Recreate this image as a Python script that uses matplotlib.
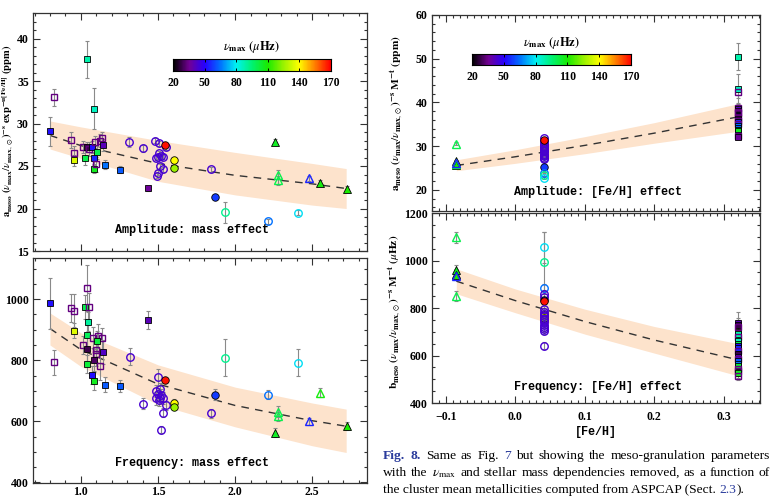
import numpy as np
import matplotlib
matplotlib.use('Agg')
import matplotlib.pyplot as plt
from matplotlib.colors import LinearSegmentedColormap, Normalize
from matplotlib.ticker import MultipleLocator

# ---------------- data: amplitude vs mass (top-left) ----------------
AM_SQ_MASS = [0.802, 0.826, 0.937, 0.959, 0.959, 1.015, 1.026, 1.043, 1.083, 1.040, 1.050, 1.074,
              1.083, 1.083, 1.090, 1.098, 1.104, 1.124, 1.137, 1.141, 1.154, 1.254, 1.435]
AM_SQ_VAL = [29.1, 33.1, 28.05, 26.5, 25.65, 27.25, 26.0, 37.55, 31.76, 27.2, 27.0, 27.2,
             25.95, 24.66, 27.8, 25.2, 26.6, 28.0, 28.25, 27.5, 25.15, 24.55, 22.4]
AM_SQ_ERR = [1.7, 1.0, 0.9, 0.9, 0.6, 0.7, 0.9, 2.2, 2.4, 0.6, 0.8, 0.7,
             0.7, 0.5, 0.7, 0.9, 0.8, 0.8, 0.7, 0.7, 0.5, 0.4, 0.3]
AM_SQ_NUMAX = [52, 33, 33, 33, 135, 33, 100, 88, 86, 28, 33, 52,
               55, 106, 33, 33, 100, 33, 33, 40, 65, 62, 36]
AM_SQ_FILLED = [1, 0, 0, 0, 1, 0, 1, 1, 1, 1, 0, 1, 1, 1, 0, 0, 1, 0, 0, 1, 1, 1, 1]

AM_CI_MASS = [1.315, 1.402, 1.480, 1.507, 1.554, 1.485, 1.507, 1.500, 1.518, 1.533, 1.511, 1.533,
              1.502, 1.493, 1.546, 1.602, 1.602, 1.841, 1.872, 1.937, 2.211, 2.407]
AM_CI_VAL = [27.85, 27.06, 27.97, 27.7, 27.2, 25.95, 26.5, 26.1, 26.2, 26.1, 25.05, 24.6,
             24.2, 23.85, 27.5, 25.65, 24.75, 24.6, 21.35, 19.55, 18.5, 19.5]
AM_CI_ERR = [0.6, 0.4, 0.3, 0.3, 0.3, 0.3, 0.3, 0.3, 0.3, 0.3, 0.3, 0.3,
             0.3, 0.3, 0.3, 0.3, 0.3, 0.3, 0.3, 1.2, 0.3, 0.3]
AM_CI_NUMAX = [44, 44, 44, 44, 44, 44, 44, 44, 44, 44, 44, 44,
               44, 44, 168, 140, 125, 44, 58, 92, 65, 78]
AM_CI_FILLED = [0, 0, 0, 0, 0, 0, 0, 0, 0, 0, 0, 0, 0, 0, 1, 1, 1, 0, 1, 0, 0, 0]

AM_TR_MASS = [2.259, 2.276, 2.276, 2.476, 2.548, 2.726]
AM_TR_VAL = [27.85, 24.0, 23.3, 23.55, 23.0, 22.35]
AM_TR_ERR = [0.3, 0.5, 0.5, 0.3, 0.3, 0.3]
AM_TR_NUMAX = [105, 100, 100, 55, 108, 110]
AM_TR_FILLED = [1, 0, 0, 0, 1, 1]

# ---------------- data: frequency vs mass (bottom-left) ----------------
FR_SQ_MASS = [0.802, 0.826, 0.937, 0.959, 0.959, 1.015, 1.026, 1.041, 1.054, 1.046, 1.037, 1.080,
              1.113, 1.139, 1.102, 1.041, 1.096, 1.096, 1.143, 1.085, 1.037, 1.126, 1.074, 1.083,
              1.154, 1.254, 1.435]
FR_SQ_VAL = [986, 793, 972, 963, 897, 850, 975, 1038, 975, 927, 882, 874,
             879, 872, 862, 838, 835, 821, 828, 801, 787, 781, 751, 731,
             720, 715, 931]
FR_SQ_ERR = [85, 42, 45, 55, 25, 30, 40, 75, 45, 30, 35, 35,
             40, 35, 35, 40, 40, 40, 40, 35, 30, 45, 30, 30,
             25, 20, 30]
FR_SQ_NUMAX = [52, 33, 33, 33, 135, 33, 100, 33, 33, 90, 98, 33,
               33, 33, 102, 28, 33, 33, 42, 30, 103, 33, 52, 106,
               62, 62, 40]
FR_SQ_FILLED = [1, 0, 0, 0, 1, 0, 1, 0, 0, 1, 1, 0, 0, 0, 1, 1, 0, 0, 1, 1, 1, 0, 1, 1, 1, 1, 1]

FR_CI_MASS = [1.318, 1.402, 1.500, 1.485, 1.500, 1.510, 1.520, 1.490, 1.505, 1.515, 1.530, 1.553,
              1.533, 1.520, 1.546, 1.602, 1.602, 1.841, 1.872, 1.937, 2.211, 2.407]
FR_CI_VAL = [811, 658, 745, 700, 690, 705, 685, 675, 670, 678, 677, 652,
             628, 573, 734, 661, 648, 627, 687, 809, 687, 792]
FR_CI_ERR = [28, 18, 28, 20, 20, 20, 20, 20, 20, 20, 20, 15,
             15, 12, 10, 12, 12, 15, 18, 60, 15, 45]
FR_CI_NUMAX = [44, 44, 44, 44, 44, 44, 44, 44, 44, 44, 44, 44,
               44, 44, 168, 140, 125, 44, 58, 92, 65, 78]
FR_CI_FILLED = [0, 0, 0, 0, 0, 0, 0, 0, 0, 0, 0, 0, 0, 0, 1, 1, 1, 0, 1, 0, 0, 0]

FR_TR_MASS = [2.259, 2.276, 2.276, 2.476, 2.548, 2.726]
FR_TR_VAL = [563, 632, 617, 600, 694, 585]
FR_TR_ERR = [15, 18, 15, 12, 15, 12]
FR_TR_NUMAX = [105, 100, 100, 55, 108, 110]
FR_TR_FILLED = [1, 0, 0, 0, 0, 1]

# ---------------- data: metallicity panels (right) ----------------
FEH_SQ, FEH_CI, FEH_TR = 0.32, 0.041, -0.085

FA_SQ_VAL = [35.2, 50.5, 43.0, 42.3, 38.8, 38.5, 38.0, 37.6, 37.2, 36.8, 36.5, 36.2, 35.8, 35.5,
             35.0, 34.6, 34.2, 33.8, 33.4, 32.6, 32.3, 32.2, 37.9]
FA_SQ_ERR = [0.6, 3.1, 3.4, 1.2, 1.0, 0.9, 0.8, 0.9, 0.8, 0.8, 0.8, 0.7, 0.8, 0.7,
             0.8, 0.6, 0.6, 0.7, 0.6, 0.6, 0.6, 0.5, 0.8]
FA_SQ_NUMAX = [135, 88, 86, 33, 33, 40, 28, 33, 52, 30, 33, 25, 33, 55,
               33, 65, 62, 100, 106, 55, 33, 36, 33]
FA_SQ_FILLED = [1, 1, 1, 0, 0, 1, 1, 0, 1, 1, 0, 1, 0, 1, 0, 1, 1, 1, 1, 1, 0, 1, 0]

FA_CI_VAL = [29.5, 28.9, 31.8, 31.3, 30.8, 30.3, 29.8, 29.3, 28.8, 28.3, 27.8, 27.4, 27.0,
             30.0, 28.0, 31.4, 25.2, 23.9, 23.4, 22.8, 29.2]
FA_CI_ERR = [0.3, 0.3, 0.3, 0.3, 0.3, 0.3, 0.3, 0.3, 0.3, 0.3, 0.3, 0.3, 0.3,
             0.3, 0.3, 0.3, 0.3, 0.3, 0.5, 0.3, 0.3]
FA_CI_NUMAX = [140, 125, 44, 44, 44, 44, 44, 44, 44, 44, 44, 44, 44,
               44, 44, 168, 58, 65, 92, 78, 44]
FA_CI_FILLED = [1, 1, 0, 0, 0, 0, 0, 0, 0, 0, 0, 0, 0, 0, 0, 1, 1, 0, 0, 0, 0]

FA_TR_VAL = [30.6, 26.6, 25.9, 25.6, 26.0, 26.2]
FA_TR_ERR = [0.4, 0.3, 0.3, 0.3, 0.3, 0.3]
FA_TR_NUMAX = [100, 105, 108, 110, 100, 55]
FA_TR_FILLED = [0, 1, 1, 1, 0, 0]

FB_SQ_VAL = [700, 737, 730, 720, 690, 680, 660, 650, 640, 630, 620, 605, 595, 585, 575,
             565, 555, 545, 535, 525, 515]
FB_SQ_ERR = [25, 45, 30, 30, 30, 25, 25, 25, 25, 25, 25, 25, 25, 20, 20,
             20, 20, 20, 20, 20, 20]
FB_SQ_NUMAX = [135, 40, 28, 33, 88, 33, 86, 100, 52, 55, 33, 28, 40, 33, 62,
               65, 103, 33, 33, 106, 33]
FB_SQ_FILLED = [1, 1, 1, 0, 1, 0, 1, 1, 1, 1, 0, 1, 1, 0, 1, 1, 1, 0, 0, 1, 0]

FB_CI_VAL = [770, 760, 1056, 993, 885, 860, 845, 835, 828, 795, 785, 775, 765, 755, 748,
             740, 730, 720, 712, 705, 641]
FB_CI_ERR = [12, 12, 65, 125, 15, 15, 15, 12, 10, 15, 15, 15, 15, 15, 15,
             15, 15, 15, 15, 15, 15]
FB_CI_NUMAX = [140, 125, 78, 92, 65, 44, 44, 58, 168, 44, 44, 44, 44, 44, 44,
               44, 44, 44, 44, 44, 44]
FB_CI_FILLED = [1, 1, 0, 0, 0, 0, 0, 1, 1, 0, 0, 0, 0, 0, 0, 0, 0, 0, 0, 0, 0]

FB_TR_VAL = [1097, 945, 958, 940, 850, 934]
FB_TR_ERR = [25, 20, 22, 15, 22, 15]
FB_TR_NUMAX = [100, 108, 105, 110, 100, 55]
FB_TR_FILLED = [0, 1, 1, 1, 0, 0]

# ---------------- fit curves ----------------
FIT_MASS = [0.8, 1.0, 1.5, 2.0, 2.5, 2.72]
FIT_AMP = [28.6, 27.4, 25.3, 23.9, 22.9, 22.35]
FIT_AMP_UP = [30.3, 29.6, 28.0, 26.6, 25.3, 24.7]
FIT_AMP_LO = [27.0, 25.9, 23.2, 21.6, 20.4, 20.0]
FIT_FRQ = [904, 835, 722, 652, 602, 584]
FIT_FRQ_UP = [955, 890, 785, 712, 660, 640]
FIT_FRQ_LO = [850, 780, 655, 582, 520, 498]

FIT_FEH = [-0.085, 0.0, 0.1, 0.2, 0.32]
FIT_FA = [25.6, 27.6, 30.2, 33.0, 36.7]
FIT_FA_UP = [26.9, 29.2, 32.2, 35.4, 39.7]
FIT_FA_LO = [24.4, 26.1, 28.3, 30.7, 33.4]
FIT_FB = [913, 831, 743, 665, 582]
FIT_FB_UP = [965, 880, 795, 722, 650]
FIT_FB_LO = [860, 780, 690, 610, 515]

CBAR_TICKS = [20, 50, 80, 110, 140, 170]

# ---------------- style ----------------
plt.rcParams['mathtext.fontset'] = 'stix'
plt.rcParams['font.family'] = ['Liberation Serif', 'DejaVu Serif']

cmap = LinearSegmentedColormap.from_list('rainbowblack', [
    (0.00, (0.0, 0.0, 0.0)),
    (0.10, (0.45, 0.0, 0.58)),
    (0.20, (0.15, 0.0, 1.0)),
    (0.30, (0.0, 0.45, 1.0)),
    (0.40, (0.0, 0.95, 0.95)),
    (0.50, (0.0, 0.95, 0.45)),
    (0.60, (0.1, 0.92, 0.0)),
    (0.70, (0.6, 0.95, 0.0)),
    (0.80, (1.0, 1.0, 0.0)),
    (0.88, (1.0, 0.6, 0.0)),
    (1.00, (1.0, 0.0, 0.0))])
norm = Normalize(20, 170)

BAND = '#fde3cc'
ERRC = '#8a8a8a'
W, H = 772, 499

fig = plt.figure(figsize=(7.72, 4.99), dpi=100)


def px_axes(x0, y0, x1, y1):
    return fig.add_axes([x0 / W, 1 - y1 / H, (x1 - x0) / W, (y1 - y0) / H])


ax_tl = px_axes(33, 13, 367, 251)
ax_bl = px_axes(33, 258, 367, 483)
ax_tr = px_axes(432, 15, 760, 211)
ax_br = px_axes(432, 213, 760, 403)

MS = {'s': 4.6, 'o': 5.4, '^': 5.6}


def draw_points(ax, xs, ys, errs, numax, filled, marker):
    for x, y, e, nu, f in zip(xs, ys, errs, numax, filled):
        ax.errorbar([x], [y], yerr=[e], fmt='none', ecolor=ERRC, elinewidth=0.8,
                    capsize=1.4, capthick=0.8, zorder=2)
    for x, y, nu, f in zip(xs, ys, numax, filled):
        c = cmap(norm(nu))
        if f:
            ax.plot([x], [y], marker=marker, ms=MS[marker], mfc=c, mec='black', mew=0.6,
                    ls='none', zorder=3)
        else:
            ax.plot([x], [y], marker=marker, ms=MS[marker], mfc='none', mec=c, mew=1.0,
                    ls='none', zorder=3)


def style(ax, xmaj, xmin, ymaj, ymin, xlabels=True, xpad=3):
    ax.xaxis.set_major_locator(MultipleLocator(xmaj))
    ax.xaxis.set_minor_locator(MultipleLocator(xmin))
    ax.yaxis.set_major_locator(MultipleLocator(ymaj))
    ax.yaxis.set_minor_locator(MultipleLocator(ymin))
    ax.tick_params(which='both', direction='in', top=True, right=True, width=0.8, color='#333333')
    ax.tick_params(which='major', length=5)
    ax.tick_params(which='minor', length=2.5)
    ax.tick_params(labelsize=8.5, pad=3)
    ax.tick_params(axis='x', pad=xpad)
    for lab in ax.get_xticklabels() + ax.get_yticklabels():
        lab.set_fontweight('bold')
    if not xlabels:
        ax.tick_params(labelbottom=False)
    for sp in ax.spines.values():
        sp.set_linewidth(0.9)
        sp.set_color('#333333')


def fit(ax, x, y, up, lo):
    ax.fill_between(x, lo, up, color=BAND, lw=0, zorder=0.5)
    ax.plot(x, y, color='#333333', lw=1.0, dashes=(5.5, 4.5), zorder=1)


# top-left
fit(ax_tl, FIT_MASS, FIT_AMP, FIT_AMP_UP, FIT_AMP_LO)
draw_points(ax_tl, AM_SQ_MASS, AM_SQ_VAL, AM_SQ_ERR, AM_SQ_NUMAX, AM_SQ_FILLED, 's')
draw_points(ax_tl, AM_CI_MASS, AM_CI_VAL, AM_CI_ERR, AM_CI_NUMAX, AM_CI_FILLED, 'o')
draw_points(ax_tl, AM_TR_MASS, AM_TR_VAL, AM_TR_ERR, AM_TR_NUMAX, AM_TR_FILLED, '^')
ax_tl.set_xlim(0.69, 2.855)
ax_tl.set_ylim(15, 43)
style(ax_tl, 0.5, 0.1, 5, 1, xlabels=False)
ax_tl.text(0.476, 0.089, 'Amplitude: mass effect', transform=ax_tl.transAxes, ha='center',
           va='center', fontsize=8.5, fontweight='bold', family='Liberation Mono')

# bottom-left
fit(ax_bl, FIT_MASS, FIT_FRQ, FIT_FRQ_UP, FIT_FRQ_LO)
draw_points(ax_bl, FR_SQ_MASS, FR_SQ_VAL, FR_SQ_ERR, FR_SQ_NUMAX, FR_SQ_FILLED, 's')
draw_points(ax_bl, FR_CI_MASS, FR_CI_VAL, FR_CI_ERR, FR_CI_NUMAX, FR_CI_FILLED, 'o')
draw_points(ax_bl, FR_TR_MASS, FR_TR_VAL, FR_TR_ERR, FR_TR_NUMAX, FR_TR_FILLED, '^')
ax_bl.set_xlim(0.69, 2.855)
ax_bl.set_ylim(398, 1135)
style(ax_bl, 0.5, 0.1, 200, 50, xpad=2)
ax_bl.text(0.476, 0.088, 'Frequency: mass effect', transform=ax_bl.transAxes, ha='center',
           va='center', fontsize=8.5, fontweight='bold', family='Liberation Mono')

# top-right
fit(ax_tr, FIT_FEH, FIT_FA, FIT_FA_UP, FIT_FA_LO)
draw_points(ax_tr, [FEH_SQ] * len(FA_SQ_VAL), FA_SQ_VAL, FA_SQ_ERR, FA_SQ_NUMAX, FA_SQ_FILLED, 's')
draw_points(ax_tr, [FEH_CI] * len(FA_CI_VAL), FA_CI_VAL, FA_CI_ERR, FA_CI_NUMAX, FA_CI_FILLED, 'o')
draw_points(ax_tr, [FEH_TR] * len(FA_TR_VAL), FA_TR_VAL, FA_TR_ERR, FA_TR_NUMAX, FA_TR_FILLED, '^')
ax_tr.set_xlim(-0.12, 0.352)
ax_tr.set_ylim(15.2, 60)
style(ax_tr, 0.1, 0.01, 10, 2, xlabels=False)
ax_tr.text(0.507, 0.097, 'Amplitude: [Fe/H] effect', transform=ax_tr.transAxes, ha='center',
           va='center', fontsize=8.5, fontweight='bold', family='Liberation Mono')

# bottom-right
fit(ax_br, FIT_FEH, FIT_FB, FIT_FB_UP, FIT_FB_LO)
draw_points(ax_br, [FEH_SQ] * len(FB_SQ_VAL), FB_SQ_VAL, FB_SQ_ERR, FB_SQ_NUMAX, FB_SQ_FILLED, 's')
draw_points(ax_br, [FEH_CI] * len(FB_CI_VAL), FB_CI_VAL, FB_CI_ERR, FB_CI_NUMAX, FB_CI_FILLED, 'o')
draw_points(ax_br, [FEH_TR] * len(FB_TR_VAL), FB_TR_VAL, FB_TR_ERR, FB_TR_NUMAX, FB_TR_FILLED, '^')
ax_br.set_xlim(-0.12, 0.352)
ax_br.set_ylim(400, 1200)
style(ax_br, 0.1, 0.01, 200, 50, xpad=6)
ax_br.set_xticks([-0.1, 0.0, 0.1, 0.2, 0.3])
ax_br.set_xticklabels(['\u22120.1', '0.0', '0.1', '0.2', '0.3'], fontweight='bold')
ax_br.set_xlabel('[Fe/H]', fontsize=8.5, fontweight='bold', family='Liberation Mono', labelpad=2)
ax_br.text(0.507, 0.084, 'Frequency: [Fe/H] effect', transform=ax_br.transAxes, ha='center',
           va='center', fontsize=8.5, fontweight='bold', family='Liberation Mono')

# y labels
fig.text(8 / W, 1 - 131 / H,
         r'$\mathbf{a_{meso}}\ \mathbf{(}\nu_{\mathbf{max}}/\nu_{\mathbf{max},\odot}\mathbf{)^{-s}}\ \mathbf{exp^{-u[Fe/H]}}\ \mathbf{(ppm)}$',
         rotation=90, ha='center', va='center', fontsize=7.6)
fig.text(397 / W, 1 - 113 / H,
         r'$\mathbf{a_{meso}}\ \mathbf{(}\nu_{\mathbf{max}}/\nu_{\mathbf{max},\odot}\mathbf{)^{-s}}\ \mathbf{M^{-t}}\ \mathbf{(ppm)}$',
         rotation=90, ha='center', va='center', fontsize=8.2)
fig.text(395 / W, 1 - 312 / H,
         r'$\mathbf{b_{meso}}\ \mathbf{(}\nu_{\mathbf{max}}/\nu_{\mathbf{max},\odot}\mathbf{)^{-s}}\ \mathbf{M^{-t}}\ \mathbf{(}\mu\mathbf{Hz)}$',
         rotation=90, ha='center', va='center', fontsize=8.2)


# colorbars
def cbar(x0, y0, x1, y1):
    cax = px_axes(x0, y0, x1, y1)
    grad = np.linspace(20, 170, 300).reshape(1, -1)
    cax.imshow(grad, aspect='auto', cmap=cmap, norm=norm, extent=[20, 170, 0, 1])
    cax.set_xlim(20, 170)
    cax.set_yticks([])
    cax.set_xticks(CBAR_TICKS)
    cax.tick_params(direction='in', top=True, length=2.5, width=0.7, labelsize=8.5, pad=4)
    for lab in cax.get_xticklabels():
        lab.set_fontweight('bold')
    for sp in cax.spines.values():
        sp.set_linewidth(0.8)
    cax.text(0.5, 1.3, r'$\nu_{\mathbf{max}}\ \mathbf{(}\mu\mathbf{Hz)}$', transform=cax.transAxes,
             ha='center', va='bottom', fontsize=9)
    return cax


cbar(173, 59, 331, 71)
cbar(472, 54, 631, 65)

# caption (justified like the page)
BLUE = '#2b3c9c'
r = fig.canvas.get_renderer()
CAP = 9.7
X0, X1 = 383, 770


def line(y, words):
    texts = []
    widths = []
    for s, col, w in words:
        t = fig.text(0, 1 - y / H, s, color=col, fontweight=w, fontsize=CAP,
                     family='Liberation Serif', ha='left', va='baseline')
        texts.append(t)
        widths.append(t.get_window_extent(renderer=r).width)
    n = len(words) - 1
    gap = (X1 - X0 - sum(widths)) / n
    x = X0
    for t, wd in zip(texts, widths):
        t.set_x(x / W)
        x += wd + gap


def words_of(text, col='black', w='normal'):
    return [(s, col, w) for s in text.split(' ')]


L1 = [('Fig.', BLUE, 'bold'), ('8.', BLUE, 'bold')] + words_of('Same as Fig.') + [('7', BLUE, 'normal')] \
    + words_of('but showing the meso-granulation parameters')
L2 = [('with', 'black', 'normal'), ('the', 'black', 'normal'), (r'$\nu_{\rm max}$', 'black', 'normal')] \
    + words_of('and stellar mass dependencies removed, as a function of')

line(459, L1)
line(476, L2)
# last line: natural spacing
x = X0
parts3 = [('the cluster mean metallicities computed from ASPCAP (Sect. ', 'black', 'normal'),
          ('2.3', BLUE, 'normal'), (').', 'black', 'normal')]
for s, col, w in parts3:
    t = fig.text(x / W, 1 - 493 / H, s, color=col, fontweight=w, fontsize=CAP,
                 family='Liberation Serif', ha='left', va='baseline')
    x += t.get_window_extent(renderer=r).width

fig.savefig('out.png', dpi=100)
